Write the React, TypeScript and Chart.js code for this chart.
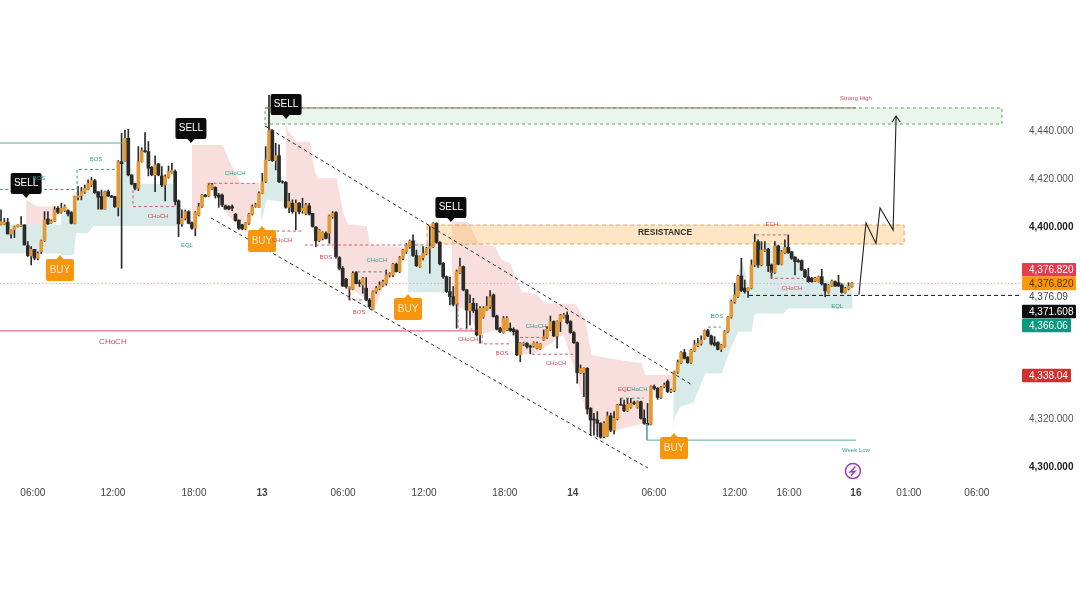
import React, { useEffect, useRef } from "react";
import { Chart, registerables } from "chart.js";

Chart.register(...registerables);

type Row = number[];

// Candles: [open, high, low, close]
const candlesDay12: Row[] = [
  [4401.1,4407.1,4400.9,4402.2],[4401.1,4403.6,4400.9,4402],[4402,4403.6,4397.1,4397.1],[4397.1,4398.8,4395.3,4398.8],
  [4398.8,4400.4,4395.6,4400.2],[4400.2,4400.9,4400,4400.9],[4400.4,4404.3,4400.2,4400.9],[4400.9,4400.9,4392.5,4392.5],
  [4392.2,4393.9,4387.7,4388.1],[4387.9,4391.8,4384.2,4390.7],[4390.7,4390.7,4386.3,4387],[4387,4389.7,4386.3,4389],
  [4389.7,4394.6,4389,4394.3],[4394.3,4406.4,4393.9,4402.9],[4403.3,4406.4,4401.1,4401.3],[4401.8,4403,4401.5,4402.5],
  [4402.5,4408.5,4402.2,4407.1],[4407.8,4408.5,4405.7,4406.1],[4406.1,4409.9,4405.7,4407.8],[4406.8,4409.2,4406.4,4408.5],
  [4406.8,4407.1,4404.6,4405.4],[4406,4406.4,4401.3,4401.5],[4401.5,4412.9,4401.3,4412.7],[4412.4,4416.8,4411.3,4413],
  [4413,4416.5,4411.3,4414.7],[4414.5,4417.5,4414,4416.1],[4415.7,4419.6,4415.4,4418.2],[4417.5,4420.7,4416.8,4419.3],
  [4419.3,4419.9,4414,4414.3],[4414.7,4414.7,4407.4,4412.4],[4412.7,4415.4,4407.4,4407.5],[4407.5,4415,4407.4,4414.7],
  [4414.7,4415.4,4412.7,4412.9],[4412.9,4413.2,4412.2,4412.4],[4412.7,4412.9,4408.2,4408.5],[4408.2,4427.7,4404.6,4427.2],
  [4427.2,4439,4382.8,4426.4],[4427.7,4440.4,4427.4,4437],[4437,4440.7,4421.3,4421.7],[4421.7,4421.7,4417.5,4417.9],
  [4418.2,4418.2,4415.4,4416.1],[4416.1,4433.5,4415.2,4427.2],[4427.2,4433,4427,4431.7],[4431.8,4439.3,4431.1,4431.4],
  [4431.4,4435.6,4421.3,4424.5],[4424.9,4425.2,4421.3,4421.7],[4421.7,4429.6,4414.7,4425.9],[4426.3,4426.5,4421.3,4421.7],
  [4421.3,4425.2,4416.8,4417.5],[4417.5,4421.7,4410.9,4421],[4420.7,4425.4,4420.3,4423.1],[4422.7,4426.5,4422.4,4423.5],
  [4423.1,4423.8,4409.2,4410.6],[4410.9,4411.3,4396,4401.3],[4401.3,4407.1,4400.2,4403.6],[4403.6,4407.1,4402.9,4406.4],
  [4406.4,4406.8,4401.3,4401.5],[4401.8,4402.2,4399,4399.5],[4399.5,4406.4,4396.3,4406],[4405,4409.9,4404.6,4408.5],
  [4408.5,4413.6,4408.2,4413.3],[4413.3,4413.6,4412.5,4412.7],[4412.9,4418.2,4412.7,4417.5],[4416.1,4418.2,4415.7,4417.5],
  [4416.5,4416.8,4412,4413.1],[4413.3,4414,4408.2,4412.4],[4413.3,4413.8,4408.5,4409.2],[4408.8,4409.2,4407.4,4407.5],
  [4408.5,4408.9,4407.1,4407.5],[4408.5,4409.2,4406.8,4407.9],[4405.3,4405.7,4402.4,4402.7],[4402.9,4402.9,4399,4399.5],
  [4400.9,4401.1,4398.8,4399.2],[4399.2,4401.8,4398.9,4401.5],[4401.5,4405.7,4401.1,4405.4],[4405.4,4409.2,4405,4408.5],
  [4408.5,4409.9,4408.2,4409.2],[4408.2,4414.7,4408.2,4414],
];
const candlesDay13: Row[] = [
  [4414,4422.4,4413.8,4418.9],[4418.9,4433.5,4418.5,4427.9],[4427.9,4455,4427.6,4440.2],[4440.2,4440.6,4427.3,4427.6],
  [4427.7,4434.9,4423.8,4429.7],[4429.7,4434.2,4418.5,4418.9],[4418.9,4419.3,4418.2,4418.7],[4418.6,4418.9,4407.8,4408.2],
  [4408.2,4414,4406,4410.6],[4409.9,4411.3,4405.7,4406.4],[4406.4,4411.3,4398.8,4409.9],[4409.9,4410.2,4405.4,4406.4],
  [4406.8,4412,4405.7,4407.8],[4405.7,4409.9,4405,4409.2],[4408.8,4409.9,4405,4405.4],[4405.7,4405.7,4399.9,4400.2],
  [4399.9,4400.2,4391.8,4394.3],[4394.3,4399,4393.9,4398.8],[4395.3,4398,4394.6,4397.7],[4397.4,4398,4395,4395.3],
  [4397.4,4405,4393.2,4404.6],[4404.3,4406.4,4403.6,4405.7],[4406,4406.4,4387,4387.7],[4387.2,4387.7,4382.1,4382.8],
  [4382.8,4383.5,4375.2,4375.4],[4378.2,4378.6,4374.5,4375.2],[4374.5,4375.2,4369.6,4375.2],[4374.1,4381.4,4373.8,4380.7],
  [4381,4381.4,4376.3,4376.5],[4376.8,4377.9,4375.2,4376.5],[4375.8,4378.9,4372.4,4378.6],[4374.5,4378.9,4369.3,4369.6],
  [4369.6,4370.2,4366.2,4366.8],[4365.7,4373.4,4365.4,4373.1],[4373.1,4375.2,4372.4,4374.5],[4374.2,4377.2,4373.8,4375.8],
  [4375.6,4377.9,4375.2,4377.2],[4376.5,4382.1,4375.8,4380],[4380,4381,4379.2,4380.6],[4380,4384.9,4379.3,4384.5],
  [4384.5,4385,4381.2,4381.4],[4381.4,4387.7,4381,4387.2],[4386.9,4390.7,4386.3,4390.4],[4389.7,4393.2,4389,4392.5],
  [4391.8,4394.6,4391.1,4394.2],[4394.2,4396.7,4387.7,4388.1],[4388.1,4390.4,4383.5,4383.9],[4383.5,4387.9,4383.2,4387.7],
  [4387.2,4391.8,4386.3,4389],[4388.8,4391.5,4388.4,4391.1],[4391.1,4400.2,4380.7,4391.8],[4391.8,4401.8,4391.5,4401.5],
  [4401.5,4401.8,4393.2,4393.6],[4393.6,4393.9,4384.2,4384.6],[4384.9,4385.2,4378.6,4379.3],[4379.3,4379.6,4372.7,4373.1],
  [4373.1,4379,4367.5,4371],[4371,4375.2,4367.1,4367.8],[4367.9,4382.1,4357.8,4381.4],[4381,4387,4380.7,4383.5],
  [4383.5,4383.8,4373.4,4373.8],[4373.8,4374,4357.8,4365.4],[4365.2,4371.7,4359.2,4368.2],[4368.2,4370.3,4364.3,4365.2],
  [4365.4,4368.2,4354.6,4355],[4355,4366.8,4351.6,4366.1],[4362.4,4366.8,4362,4366.1],[4365.4,4371,4365.3,4367.1],
  [4366.8,4373.5,4366.1,4371],[4371.7,4372.1,4362.4,4362.7],[4362.9,4363.3,4357.1,4357.4],[4357.8,4358.2,4356,4356.4],
  [4356,4362.7,4355.7,4362],[4357,4362.7,4356.8,4362],[4357.8,4360,4356.5,4356.8],[4357.4,4358,4355,4356.4],
  [4356.8,4357.1,4346.4,4346.7],[4346.7,4351.8,4343.9,4351.5],[4351.3,4352,4350.5,4351.7],[4351.5,4351.8,4349.5,4350.2],
  [4350.4,4350.8,4347.1,4349.9],[4350.4,4352.2,4349.9,4351.8],[4349.5,4352,4349.2,4351.5],[4349.2,4351.5,4349,4351.3],
  [4352.9,4357.1,4352.7,4354.3],[4354,4358.5,4353.6,4357.5],[4357.1,4362.9,4356.8,4360.6],[4360.6,4360.9,4354.3,4354.6],
  [4354.6,4360.9,4349.5,4360.6],[4360.6,4363.6,4356.4,4363.3],[4362.4,4364,4362,4363.3],[4363.3,4364.7,4359.6,4360.1],
  [4360.6,4361,4355.7,4356],
];
const candlesDay14: Row[] = [
  [4356,4356.4,4351.5,4351.8],[4351.8,4352.1,4334.9,4339.3],[4339.3,4342.5,4339,4341.1],[4339.3,4341.3,4329.3,4341.1],
  [4341.1,4341.4,4322.1,4324.1],[4324.5,4324.7,4313.3,4319.6],[4320,4322.4,4313.3,4319.6],[4319.6,4323.1,4312.7,4318.2],
  [4318.2,4318.5,4312,4312.4],[4312.7,4318.9,4312.2,4318.2],[4312.9,4322.9,4312.7,4321.3],[4321.3,4322.4,4314.7,4315.4],
  [4315.4,4323.1,4313.8,4320.3],[4320,4326.1,4319.6,4325.8],[4326.1,4328.6,4325.7,4325.8],[4325.8,4327.9,4323.1,4323.5],
  [4323.4,4328.6,4323.1,4326.1],[4324.9,4328.6,4324.5,4326.5],[4326.8,4327.5,4326,4326.4],[4324.9,4327.5,4324.5,4327.2],
  [4327.2,4327.5,4319.9,4320.3],[4320.3,4323.8,4317.8,4318.2],[4318.2,4326.5,4317.5,4317.5],[4317.8,4333.8,4317.5,4333.5],
  [4333.5,4334.2,4332.1,4332.8],[4332.8,4333.1,4328.2,4329],[4329,4333.5,4328.6,4333.1],[4333.5,4335,4333,4334.2],
  [4335.6,4336.3,4331,4331.4],[4331.4,4332.5,4331,4332],[4331.7,4340,4331.4,4339.7],[4339.5,4344.6,4339,4343.6],
  [4343.5,4348.1,4343.2,4347.7],[4347.7,4349,4345,4345.3],[4345.7,4346,4343.2,4343.5],[4343.5,4349,4343.2,4348.8],
  [4348.4,4352.7,4348.1,4350.9],[4350.6,4353.6,4350.2,4351.5],[4351.3,4354.6,4350.8,4352.9],[4353.6,4357.1,4353.2,4356.8],
  [4356.8,4357.4,4354.3,4354.6],[4354.6,4355,4350.8,4351.3],[4351.8,4354.3,4350.4,4350.8],[4351.8,4352.2,4348.8,4349],
  [4349,4351.1,4348.1,4350.8],[4350.2,4356.8,4349.9,4356.4],[4356.4,4362.7,4356.1,4362.4],[4362.4,4369.6,4362,4368.9],
  [4368.9,4376.5,4368.2,4371.7],[4371,4380,4370.7,4379.6],[4379.6,4387,4373,4373.5],[4374.5,4377.9,4372.4,4373.1],
  [4373.5,4374.6,4370.7,4374.5],[4374.5,4386.3,4374.2,4384.2],[4384.2,4397,4383.5,4393.6],[4393.9,4394.6,4383.2,4384.2],
  [4384.2,4393.9,4383.8,4390.4],[4390.2,4393.9,4389.8,4390.5],[4390.7,4391.1,4381.4,4383.9],[4384.2,4384.6,4378.6,4381.1],
  [4381.1,4393.9,4380.7,4392.1],[4392.1,4392.5,4384.2,4384.5],[4384.5,4390.2,4384.2,4389.7],[4389.3,4394.6,4389,4391.5],
  [4391.5,4396.7,4389,4389.3],[4389.7,4389.7,4386.5,4387],[4387.4,4387.7,4380,4385.6],[4386,4386.7,4385.2,4385.6],
  [4386,4386.3,4381.8,4382.1],[4382.1,4382.4,4378.9,4379.3],[4379.3,4382.8,4377,4377.2],[4378.6,4379,4377,4377.2],
  [4377.5,4379,4377.2,4378.6],[4377.2,4379.6,4377,4379.3],[4379.3,4382.4,4375.8,4376.3],[4376.3,4376.5,4371,4373.4],
  [4372.7,4376.1,4372.4,4375.8],[4375.4,4377.9,4375.2,4377.5],[4377.2,4377.6,4375.2,4375.4],[4376.8,4379.9,4375.2,4375.4],
  [4375.8,4376.3,4372.4,4372.7],[4372.7,4374.9,4372.4,4374.5],[4374.2,4376.8,4373.8,4375.4],[4375.2,4376.8,4374.9,4376.5],
];

// Shaded supply / demand bands: [bar index, upper price, lower price]
const tealBands: Row[][] = [
  [[-0.3,4401,4389],[22,4401,4389]],
  [[17.9,4405,4388.3],[21.5,4407,4388.3],[22.4,4412,4397.4],[26,4415,4397.4],[27.5,4416,4400.4],[35,4412,4400.4],[36,4427,4400.4],[38,4428,4400.4],[40,4418,4400.4],[52.5,4418,4400.4]],
  [[77.5,4411,4402],[78.3,4420,4405.7],[79.3,4428,4411.3],[81,4427,4411],[83,4423,4410.6],[84.4,4418.9,4410.6]],
  [[121.5,4391,4372.8],[123.5,4395,4372.8],[127,4390,4372.8],[129,4401,4372.8],[130.5,4398,4372.8],[131.5,4385,4372.8],[132.8,4379.2,4372.8]],
  [[200.7,4332,4315.4],[201.2,4340,4321],[202.7,4345,4325],[206.7,4349,4327],[210.2,4356,4339],[215.2,4352,4339],[217.6,4365,4348.8],[220.1,4380,4356.4],[221.1,4387,4356.4],[223.1,4375,4356.4],[224.1,4384,4356.4],[225,4393,4364],[233.5,4392,4364],[235,4393,4366],[241.5,4379,4366],[254.2,4376,4366]],
];
const pinkBands: Row[][] = [
  [[7.5,4411.5,4393],[9,4410,4388],[11,4408.5,4388],[12.5,4408.5,4393],[13.5,4408.5,4402],[15,4408.5,4402],[16,4408.5,4407],[17.2,4408,4408]],
  [[57,4434.2,4403],[58.7,4434.2,4406],[60.2,4434.2,4413],[62,4434.2,4417],[64.7,4434.2,4413],[66.2,4434.2,4408],[68,4427.9,4404.5],[71.6,4418.2,4399.5],[74,4418.2,4402],[75.6,4418.2,4409],[77,4418.2,4414],[77.2,4418.2,4418]],
  [[85.1,4442.5,4418],[85.8,4440,4408],[87.8,4435.6,4408],[92.2,4435.6,4405.7],[93.7,4423,4394],[94.7,4420.3,4394],[97.2,4420.3,4395],[100.2,4420.3,4388],[102.2,4405.7,4375.2],[103.7,4400.9,4374],[105.2,4400.9,4373.8],[109.2,4400.2,4369.6],[110.2,4392.5,4366],[111.2,4392.5,4365.4],[114.2,4392,4375.2],[117.2,4392,4380],[120.2,4391.5,4391]],
  [[134.5,4402.2,4367.5],[139.5,4402.2,4365],[142.5,4393.2,4355],[147.5,4391.8,4357],[149.5,4386.3,4356],[152,4384.9,4357],[155.4,4373,4347],[159.9,4371.7,4347.5],[162.4,4368.2,4350],[167.9,4368,4355],[171.4,4368,4340],[174.4,4361.3,4323.8],[176.3,4346.7,4317],[178.8,4346,4312.7],[182.8,4345,4315],[191.3,4343.2,4318],[192.3,4338.3,4318],[194.3,4338.3,4333.5],[200.3,4338.3,4332]],
];

// Zones: [first bar, last bar, upper price, lower price]
const strongHighZone = [78.8, 298.8, 4449.6, 4442.9];
const resistanceZone = [127.2, 269.6, 4400.8, 4392.9];

// Structure lines: polylines of [bar index, price]
const channelLines: Row[][] = [
  [[78.8,4442.1],[206.3,4334.2]],
  [[62.7,4403.75],[193.1,4299.6]],
];
const tealSolidLines: Row[][] = [
  [[-0.3,4435],[36.2,4435]],
  [[192.8,4317.9],[192.8,4311.2],[255.2,4311.2]],
];
const tealDashedLines: Row[][] = [
  [[-0.3,4415.6],[22.9,4415.6]],
  [[22.7,4413.3],[22.7,4424],[34.6,4424]],
  [[211,4358.3],[214.9,4358.3]],
  [[106.3,4381.3],[115.2,4381.3]],
  [[184.9,4328.7],[191.8,4328.7]],
];
const redDashedLines: Row[][] = [
  [[39.4,4415.4],[39.4,4408.5],[52.2,4408.5]],
  [[61.8,4418.2],[76.7,4418.2]],
  [[77.3,4398.3],[90.4,4398.3]],
  [[90.7,4392.5],[129,4392.5]],
  [[104.2,4375],[104.2,4369.6],[108,4369.6]],
  [[136.4,4368.3],[136.4,4357.5],[140.6,4357.5]],
  [[143.6,4355],[143.6,4351.3],[151.9,4351.3]],
  [[158.5,4347],[170.7,4347]],
  [[154.9,4354],[162.4,4354]],
  [[225.4,4396.7],[235,4396.7]],
  [[230.1,4382],[230.1,4378.6],[239.4,4378.6]],
];
const chochRedLine: Row[] = [[-0.3,4356.7],[142.4,4356.7]];
const supportDashLine: Row[] = [[223.3,4371.5],[304,4371.5]];
const currentPriceLine: Row[] = [[-0.3,4376.5],[305.67,4376.5]];
const strongHighLine: Row[] = [[78.8,4449.6],[255.2,4449.6]];
const forecastPath: Row[] = [[256.1,4371.7],[258.2,4401.7],[261.2,4393.1],[262.4,4407.9],[266.3,4398.75],[267.2,4446.25]];
const forecastArrowHead: Row[] = [[266,4443.75],[267.2,4446.25],[268.4,4443.75]];

// Signal flags: bar index and price of the pointer tip
const sellBars = [7.5, 56.7, 85.1, 134.3];
const sellPrices = [4412.1, 4435, 4445, 4402.1];
const buyBars = [17.6, 77.9, 121.5, 200.9];
const buyPrices = [4388.3, 4400.4, 4372.1, 4314.2];

// Small chart notes: [bar index, price, text]
type Note = [number, number, string];
const tealNotes: Note[] = [
  [28.4,4428.3,"BOS"],[11.3,4420.4,"BOS"],[69.9,4422.5,"CHoCH"],[55.5,4392.5,"EQL"],[112.2,4386.3,"CHoCH"],
  [159.7,4358.75,"CHoCH"],[189.9,4332.5,"CHoCH"],[213.7,4362.9,"BOS"],[249.6,4367.1,"EQL"],[255.2,4307.1,"Week Low"],
];
const redNotes: Note[] = [
  [46.9,4404.6,"CHoCH"],[83.9,4394.6,"CHoCH"],[97,4387.5,"BOS"],[106.9,4364.6,"BOS"],[139.4,4353.3,"CHoCH"],
  [149.6,4347.5,"BOS"],[165.7,4343.3,"CHoCH"],[186,4332.5,"EQL"],[230.1,4401.25,"ECH"],[236.1,4374.6,"CHoCH"],
  [255.2,4453.75,"Strong High"],
];
const mainChochNote: Note = [33.4, 4352.1, "CHoCH"];
const resistanceNote: Note = [198.2, 4397.5, "RESISTANCE"];
const boltMark = [254.3, 4298.3];

// Axes
const yTickValues = [4300, 4320, 4400, 4420, 4440];
const yTickLabels = ["4,300.000", "4,320.000", "4,400.000", "4,420.000", "4,440.000"];
const yTickBold = ["4,300.000", "4,400.000"];
const xTickBars = [9.5, 33.4, 57.6, 77.9, 102.1, 126.3, 150.4, 170.7, 194.9, 219, 235.2, 255.2, 271, 291.3];
const xTickLabels = ["06:00", "12:00", "18:00", "13", "06:00", "12:00", "18:00", "14", "06:00", "12:00", "16:00", "16", "01:00", "06:00"];
const xTickBold = ["13", "14", "16"];

// Price tags on the right: text, price where the stacked tag sits, kind
const tagTexts = ["4,376.820", "4,376.820", "4,376.09", "4,371.608", "4,366.06", "4,338.04"];
const tagPrices = [4382.2, 4376.5, 4370.8, 4364.8, 4359, 4338.1];
const tagFills = ["#ea3a50", "#ff9800", "", "#0d0d0d", "#089981", "#d32f2f"];
const tagInks = ["#ffffff", "#4a3000", "#444444", "#ffffff", "#ffffff", "#ffffff"];
const tagWidths = [54, 54, 0, 54, 49, 49];

const UP = "#e39a36";
const DOWN = "#2a2a2a";
const TEAL_TEXT = "#2f9c8d";
const RED_TEXT = "#d9455a";
const FONT = "'Liberation Sans', Arial, sans-serif";

const xy = (pts: Row[]) => pts.map(([x, y]) => ({ x, y }));

function line(pts: Row[], color: string, dash: number[] = [], width = 1, order = 1) {
  return {
    type: "line" as const,
    data: xy(pts),
    borderColor: color,
    borderDash: dash,
    borderWidth: width,
    pointRadius: 0,
    fill: false,
    tension: 0,
    order,
  };
}

function band(rows: Row[], color: string, order: number) {
  const top = {
    type: "line" as const,
    data: rows.map((r) => ({ x: r[0], y: r[1] })),
    borderWidth: 0,
    borderColor: "transparent",
    backgroundColor: color,
    pointRadius: 0,
    tension: 0,
    fill: "+1",
    order,
  };
  const bottom = {
    type: "line" as const,
    data: rows.map((r) => ({ x: r[0], y: r[2] })),
    borderWidth: 0,
    borderColor: "transparent",
    pointRadius: 0,
    tension: 0,
    fill: false,
    order,
  };
  return [top, bottom];
}

function zone(z: number[], fill: string, edge: string, dash: number[]) {
  const [a, b, t, l] = z;
  return [
    ...band([[a, t, l], [b, t, l]], fill, 9),
    line([[a, t], [b, t], [b, l], [a, l], [a, t]], edge, dash, 1, 8),
  ];
}

export default function App() {
  const ref = useRef<HTMLCanvasElement>(null);
  useEffect(() => {
    document.body.style.margin = "0";
    document.body.style.background = "#ffffff";
    const candles = [...candlesDay12, ...candlesDay13, ...candlesDay14];

    const overlay = {
      id: "overlay",
      afterDatasetsDraw(chart: any) {
        const { ctx, scales } = chart;
        const px = (v: number) => scales.x.getPixelForValue(v);
        const py = (v: number) => scales.y.getPixelForValue(v);
        ctx.save();
        ctx.textAlign = "center";
        ctx.textBaseline = "middle";

        const note = (n: Note, color: string, font: string) => {
          ctx.fillStyle = color;
          ctx.font = font;
          ctx.fillText(n[2], px(n[0]), py(n[1]));
        };

        sellBars.forEach((b, i) => {
          const x = px(b), y = py(sellPrices[i]);
          ctx.fillStyle = "#0b0b0b";
          ctx.beginPath();
          ctx.roundRect(x - 15.5, y - 25, 31, 21, 2);
          ctx.fill();
          ctx.beginPath();
          ctx.moveTo(x - 4, y - 4.5);
          ctx.lineTo(x, y);
          ctx.lineTo(x + 4, y - 4.5);
          ctx.fill();
          ctx.fillStyle = "#ffffff";
          ctx.font = `10px ${FONT}`;
          ctx.fillText("SELL", x, y - 14.5);
        });
        buyBars.forEach((b, i) => {
          const x = px(b), y = py(buyPrices[i]);
          ctx.fillStyle = "#f7960c";
          ctx.beginPath();
          ctx.roundRect(x - 14, y + 4, 28, 22, 2);
          ctx.fill();
          ctx.beginPath();
          ctx.moveTo(x - 4, y + 4.5);
          ctx.lineTo(x, y);
          ctx.lineTo(x + 4, y + 4.5);
          ctx.fill();
          ctx.fillStyle = "#ffe9c9";
          ctx.font = `10px ${FONT}`;
          ctx.fillText("BUY", x, y + 15.5);
        });

        tealNotes.forEach((n) => note(n, TEAL_TEXT, `6px ${FONT}`));
        redNotes.forEach((n) => note(n, RED_TEXT, `6px ${FONT}`));
        note(mainChochNote, RED_TEXT, `8px ${FONT}`);
        note(resistanceNote, "#333333", `bold 8.5px ${FONT}`);

        const bx = px(boltMark[0]), by = py(boltMark[1]);
        ctx.strokeStyle = "#9a3fb5";
        ctx.lineWidth = 1.5;
        ctx.beginPath();
        ctx.arc(bx, by, 7.5, 0, Math.PI * 2);
        ctx.stroke();
        ctx.beginPath();
        ctx.moveTo(bx + 2.5, by - 4.5);
        ctx.lineTo(bx - 2.5, by + 0.8);
        ctx.lineTo(bx + 2, by + 0.2);
        ctx.lineTo(bx - 2, by + 4.5);
        ctx.stroke();

        tagTexts.forEach((t, i) => {
          const y = py(tagPrices[i]);
          if (tagFills[i]) {
            ctx.fillStyle = tagFills[i];
            ctx.beginPath();
            ctx.roundRect(1022, y - 6.8, tagWidths[i], 13.6, 1);
            ctx.fill();
          }
          ctx.fillStyle = tagInks[i];
          ctx.font = `10px ${FONT}`;
          ctx.textAlign = "left";
          ctx.fillText(t, 1029, y + 0.5);
        });
        ctx.restore();
      },
    };

    const chart = new Chart(ref.current as HTMLCanvasElement, {
      type: "bar",
      plugins: [overlay],
      data: {
        datasets: [
          {
            type: "bar",
            data: candles.map((c, i) => ({ x: i, y: [c[2], c[1]] })),
            backgroundColor: DOWN,
            barThickness: 1,
            grouped: false,
            order: 3,
          },
          {
            type: "bar",
            data: candles.map((c, i) => ({ x: i, y: [c[0], c[3]] })),
            backgroundColor: candles.map((c) => (c[3] >= c[0] ? UP : DOWN)),
            barThickness: 3,
            grouped: false,
            order: 2,
          },
          ...tealBands.flatMap((b) => band(b, "#d8ebe9", 10)),
          ...pinkBands.flatMap((b) => band(b, "#f8dfdd", 10)),
          ...zone(strongHighZone, "rgba(206,232,208,0.45)", "#6b9f72", [3, 3]),
          ...zone(resistanceZone, "rgba(250,190,110,0.40)", "#e8a548", [4, 3]),
          line(strongHighLine, "#8d7c52", [], 1, 1),
          line(currentPriceLine, "#efb56e", [1.5, 2], 1, 7),
          line(chochRedLine, "#d9455a", [], 1, 1),
          line(supportDashLine, "#111111", [4, 3], 1, 1),
          ...channelLines.map((l) => line(l, "#333333", [3.5, 3], 1, 1)),
          ...tealSolidLines.map((l) => line(l, "#5aa79e", [], 1, 1)),
          ...tealDashedLines.map((l) => line(l, "#4f8f86", [3, 2.5], 1, 1)),
          ...redDashedLines.map((l) => line(l, "#c9606e", [3, 2.5], 1, 1)),
          line(forecastPath, "#222222", [], 1.1, 0),
          line(forecastArrowHead, "#222222", [], 1.1, 0),
        ] as any,
      },
      options: {
        animation: false,
        responsive: false,
        devicePixelRatio: 1,
        events: [],
        layout: { padding: 0 },
        plugins: { legend: { display: false }, tooltip: { enabled: false } },
        scales: {
          x: {
            type: "linear",
            min: -0.3,
            max: 305.67,
            offset: false,
            grid: { display: false, drawTicks: false },
            border: { display: false },
            afterFit: (s: any) => { s.height = 125; s.paddingLeft = 0; s.paddingRight = 0; },
            afterBuildTicks: (s: any) => { s.ticks = xTickBars.map((value) => ({ value })); },
            ticks: {
              autoSkip: false,
              maxRotation: 0,
              padding: 4,
              color: "#444444",
              font: (c: any) => ({
                family: FONT,
                size: 10,
                weight: xTickBold.includes(xTickLabels[c.index]) ? "bold" : "normal",
              }),
              callback: (_v: any, i: number) => xTickLabels[i],
            },
          },
          y: {
            type: "linear",
            position: "right",
            min: 4293.33,
            max: 4494.58,
            grid: { display: false, drawTicks: false },
            border: { display: false },
            afterFit: (s: any) => { s.width = 55; s.paddingTop = 0; s.paddingBottom = 0; },
            afterBuildTicks: (s: any) => { s.ticks = yTickValues.map((value) => ({ value })); },
            ticks: {
              autoSkip: false,
              padding: 4,
              color: (c: any) => (yTickBold.includes(yTickLabels[c.index]) ? "#222222" : "#555555"),
              font: (c: any) => ({
                family: FONT,
                size: 10,
                weight: yTickBold.includes(yTickLabels[c.index]) ? "bold" : "normal",
              }),
              callback: (_v: any, i: number) => yTickLabels[i],
            },
          },
        },
      } as any,
    });
    return () => chart.destroy();
  }, []);
  return <canvas ref={ref} width={1080} height={608} style={{ display: "block", width: 1080, height: 608 }} />;
}
